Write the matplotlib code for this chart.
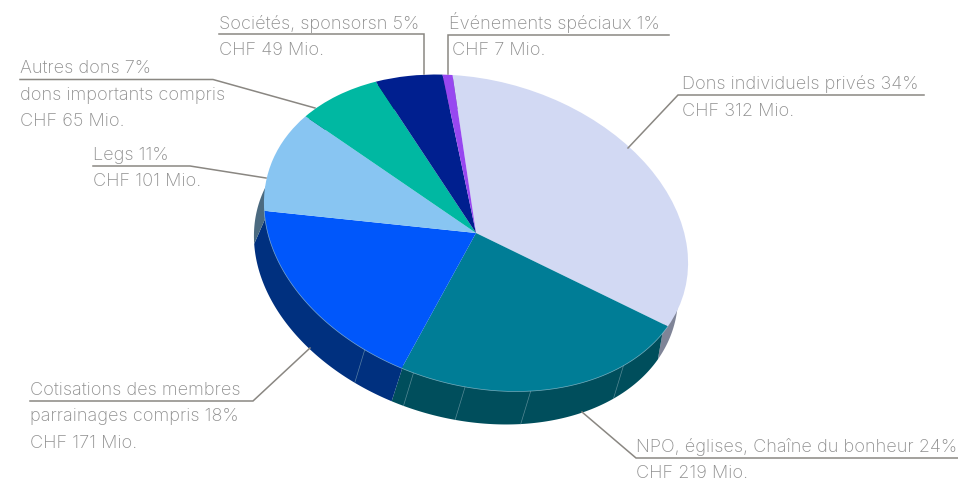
import numpy as np
import matplotlib
matplotlib.use("Agg")
import matplotlib.pyplot as plt
from matplotlib.patches import Polygon
from matplotlib.transforms import Affine2D

# values in CHF Mio., clockwise from the top
sources = ["Dons individuels", "NPO", "Cotisations", "Legs", "Autres dons", "Sociétés", "Événements"]
amounts = [312, 219, 171, 101, 65, 49, 7]
top_colors = ["#d2d9f3", "#007d96", "#0057fb", "#88c5f2", "#00b8a2", "#001f8f", "#9747f0"]
side_colors = ["#7f8497", "#004e5c", "#00307f", "#4b6a80", "#006b60", "#001254", "#58298c"]

# where the thin seams sit on the rim, degrees
seam_angles = [34.3, 63.4, 81.3, 95.5, 110]

labels = [
    ("Dons individuels privés 34%", 682, 89),
    ("CHF 312 Mio.", 682, 116),
    ("NPO, églises, Chaîne du bonheur 24%", 636, 452),
    ("CHF 219 Mio.", 636, 478),
    ("Cotisations des membres", 30, 395),
    ("parrainages compris 18%", 30, 421),
    ("CHF 171 Mio.", 30, 448),
    ("Legs 11%", 93, 160),
    ("CHF 101 Mio.", 93, 186),
    ("Autres dons 7%", 20, 73),
    ("dons importants compris", 20, 100),
    ("CHF 65 Mio.", 20, 126),
    ("Sociétés, sponsorsn 5%", 219, 29),
    ("CHF 49 Mio.", 219, 55),
    ("Événements spéciaux 1%", 449, 29),
    ("CHF 7 Mio.", 452, 55),
]

leaders = [
    ([924, 678, 628], [96, 96, 149]),
    ([958, 636, 582], [459, 459, 413]),
    ([30, 253, 310], [402, 402, 349]),
    ([93, 190, 266], [167, 167, 179]),
    ([20, 213, 315], [80.5, 80.5, 109]),
    ([219, 424, 424], [35, 35, 75]),
    ([669, 448, 448], [36, 36, 75]),
]

text_color = "#8f8f8f"
line_color = "#8a8782"

fig = plt.figure(figsize=(9.58, 4.81), dpi=100)
ax = fig.add_axes([0, 0, 1, 1])

wedges, _ = ax.pie(amounts, colors=top_colors, startangle=-108, counterclock=True,
                   wedgeprops=dict(linewidth=0), radius=1)
ax.set_aspect("auto")
ax.set_xlim(0, 958)
ax.set_ylim(481, 0)
ax.axis("off")

# tilted ellipse, axes in pixels
tilt = Affine2D().scale(216.4, 152.5).rotate_deg(16.3).translate(476, 234)
depth = np.array([-10, 33])
center = np.array([476, 234])


def rim(a1, a2):
    t = np.radians(np.linspace(a1, a2, 120))
    return tilt.transform(np.column_stack([np.cos(t), np.sin(t)]))


for w, c, sc in zip(wedges, top_colors, side_colors):
    w.set_transform(tilt + ax.transData)
    w.set_zorder(3)
    arc = rim(w.theta1, w.theta2)
    # start a bit inside the top so no dark fringe shows round it
    inner = center + (arc - center) * 0.98
    ax.add_patch(Polygon(np.vstack([inner, (arc + depth)[::-1]]), closed=True,
                         fc=sc, lw=0, zorder=1))

# light edge where the front of the top meets the side
front = rim(wedges[0].theta2, wedges[2].theta2)
ax.plot(front[:, 0], front[:, 1], color="#a8d0e0", lw=0.5, alpha=0.7, zorder=4)

for a in seam_angles:
    p = rim(a, a)[0]
    ax.plot([p[0], p[0] + depth[0]], [p[1], p[1] + depth[1]], color="#8fb0bb",
            lw=0.5, alpha=0.6, zorder=2)

for xs, ys in leaders:
    ax.plot(xs, ys, color=line_color, lw=1.1, solid_joinstyle="miter", zorder=5, clip_on=False)

for txt, x, y in labels:
    ax.text(x, y, txt, color=text_color, fontsize=13.05, family="Inter", weight="light",
            ha="left", va="baseline", zorder=6)

fig.savefig("out.png", dpi=100)
